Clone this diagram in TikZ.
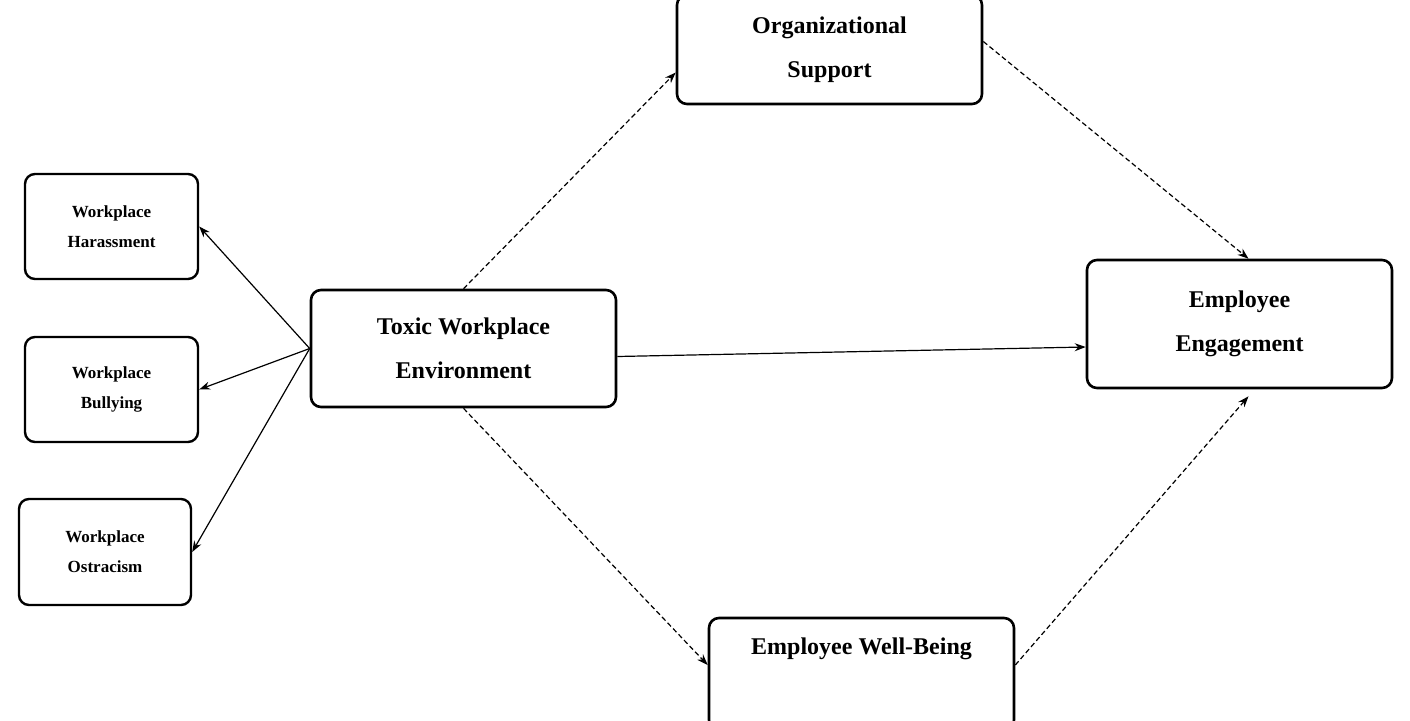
\documentclass[tikz,border=0pt]{standalone}
\usepackage{fontspec}
\setmainfont{Liberation Serif}
\usetikzlibrary{arrows.meta,calc}
\begin{document}
\begin{tikzpicture}[x=1pt,y=-1pt,
 box/.style={draw,line width=2.6pt,rounded corners=10pt,align=center,font=\bfseries\fontsize{24}{44}\selectfont,inner sep=0pt},
 sbox/.style={box,line width=2.4pt,font=\bfseries\fontsize{17}{30}\selectfont},
 arr/.style={-{Stealth[length=11pt,width=8pt]},line width=1.2pt},
 darr/.style={arr,dash pattern=on 5pt off 3pt}]
\useasboundingbox (0,0) rectangle (1410,720);
\node[box,minimum width=305pt,minimum height=109pt] (org) at (829.5,49.5) {Organizational\\Support};
\node[sbox,minimum width=173pt,minimum height=105pt] (har) at (111.5,226.5) {Workplace\\Harassment};
\node[sbox,minimum width=173pt,minimum height=105pt] (bul) at (111.5,389.5) {Workplace\\Bullying};
\node[sbox,minimum width=172pt,minimum height=106pt] (ost) at (105,552) {Workplace\\Ostracism};
\node[box,minimum width=305pt,minimum height=117pt] (tox) at (463.5,348.5) {Toxic Workplace\\Environment};
\node[box,minimum width=305pt,minimum height=128pt] (eng) at (1239.5,324) {Employee\\Engagement};
\node[box,minimum width=305pt,minimum height=112pt,text depth=56pt] (wb) at (861.5,674) {Employee Well-Being};
\coordinate (tl) at ($(tox.west)+(0,0)$);
\draw[arr] (tl) -- (har.east);
\draw[arr] (tl) -- (bul.east);
\draw[arr] (tl) -- (ost.east);
\draw[arr] ($(tox.east)+(0,8)$) -- ($(eng.west)+(0,23)$);
\draw[darr] (tox.north) -- ($(org.west)+(0,23)$);
\draw[darr] ($(org.east)+(0,-8)$) -- ($(eng.north)+(9,0)$);
\draw[darr] (tox.south) -- ($(wb.west)+(0,-9)$);
\draw[darr] ($(wb.east)+(0,-9)$) -- ($(eng.south)+(9,7)$);
\end{tikzpicture}
\end{document}
